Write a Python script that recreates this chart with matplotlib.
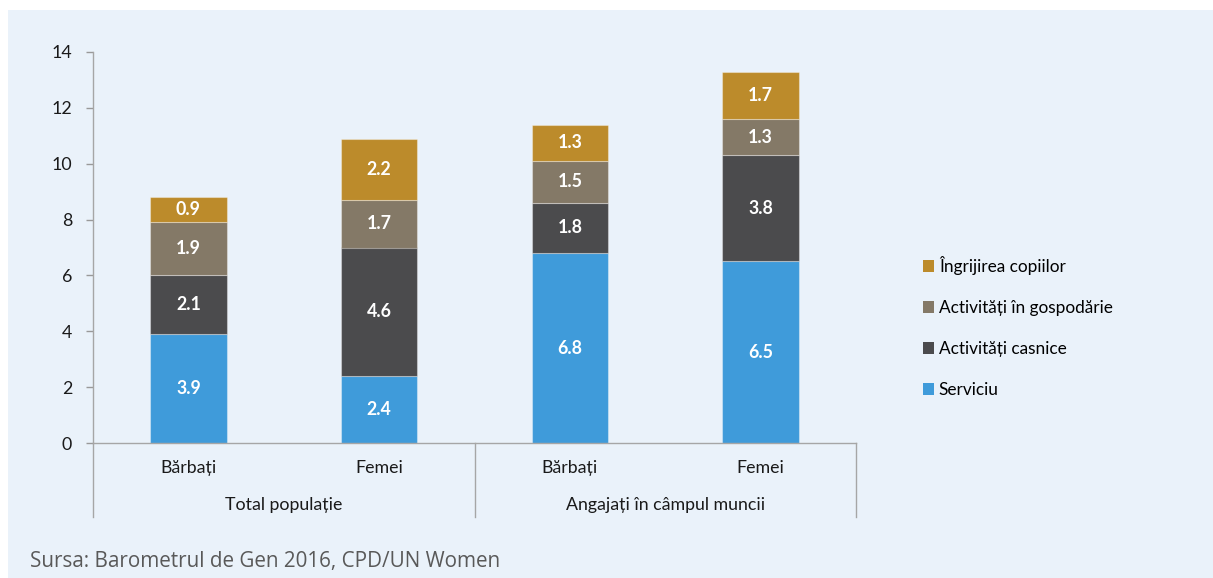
import matplotlib
matplotlib.use("Agg")
import matplotlib.pyplot as plt
from matplotlib.patches import Rectangle
from matplotlib.lines import Line2D

categories = ["Bărbați", "Femei", "Bărbați", "Femei"]
groups = ["Total populație", "Angajați în câmpul muncii"]
series_names = ["Serviciu", "Activități casnice", "Activități în gospodărie", "Îngrijirea copiilor"]
serviciu = [3.9, 2.4, 6.8, 6.5]
casnice = [2.1, 4.6, 1.8, 3.8]
gospodarie = [1.9, 1.7, 1.5, 1.3]
copii = [0.9, 2.2, 1.3, 1.7]
yticks = [0, 2, 4, 6, 8, 10, 12, 14]

colors = ["#3F9BDA", "#4B4B4D", "#847967", "#BC8B2B"]
bg = "#EAF2FA"

plt.rcParams['font.family'] = ['Lato', 'DejaVu Sans']
FS = 12.8

W, H = 1213, 578
fig = plt.figure(figsize=(W/100, H/100), dpi=100)
fig.patch.set_facecolor("white")
fig.add_artist(Rectangle((8/W, 0), 1 - 8/W, 1 - 10/H, transform=fig.transFigure,
                         facecolor=bg, edgecolor="none", zorder=-10))

ax = fig.add_axes([93/W, 1 - 443/H, (856-93)/W, (443-52)/H])
ax.set_facecolor("none")

x = list(range(len(categories)))
series = [serviciu, casnice, gospodarie, copii]
bottom = [0]*len(x)
handles = []
for vals, col, name in zip(series, colors, series_names):
    bars = ax.bar(x, vals, bottom=bottom, width=0.4, color=col, edgecolor=(1, 1, 1, 0.35),
                  linewidth=0.8, label=name)
    for xi, v, b in zip(x, vals, bottom):
        ax.text(xi, b + v/2, f"{v:.1f}", ha="center", va="center", color="white",
                fontsize=FS, fontweight="bold")
    bottom = [b + v for b, v in zip(bottom, vals)]
    handles.append(bars)

ax.set_xlim(-0.5, 3.5)
ax.set_ylim(0, 14)
ax.set_yticks(yticks)
ax.set_yticklabels([str(t) for t in yticks], fontsize=FS, color="#1a1a1a")
ax.tick_params(axis="y", length=5, color="#999999", width=1, pad=10)
ax.set_xticks([])
for s in ["top", "right"]:
    ax.spines[s].set_visible(False)
for s in ["left", "bottom"]:
    ax.spines[s].set_color("#A6A6A6")
    ax.spines[s].set_linewidth(1)

# category labels and group separators
axh = 443 - 52
for xi, c in zip(x, categories):
    ax.text(xi, -25/axh, c, transform=ax.get_xaxis_transform(), ha="center", va="center",
            fontsize=FS, color="#1a1a1a")
for gi, g in enumerate(groups):
    ax.text(gi*2 + 0.5, -62/axh, g, transform=ax.get_xaxis_transform(), ha="center",
            va="center", fontsize=FS, color="#1a1a1a")
for xs in [-0.5, 1.5, 3.5]:
    ax.add_line(Line2D([xs, xs], [0, -(517-443)/axh], transform=ax.get_xaxis_transform(),
                       color="#A6A6A6", linewidth=1, clip_on=False))

leg_h = [handles[3], handles[2], handles[1], handles[0]]
leg_l = [series_names[3], series_names[2], series_names[1], series_names[0]]
leg = fig.legend(leg_h, leg_l, loc="center left", bbox_to_anchor=(907/W, 1 - 327/H),
                 frameon=False, fontsize=12.4, handlelength=0.65, handleheight=0.65,
                 handletextpad=0.3, labelspacing=1.45)
for p in leg.get_patches():
    p.set_edgecolor("none")

fig.text(30/W, 1 - 562/H, "Sursa: Barometrul de Gen 2016, CPD/UN Women", fontsize=14.9,
         color="#595959", family=["Open Sans", "DejaVu Sans"], va="center", ha="left")

fig.savefig("out.png", dpi=100, facecolor=fig.get_facecolor())
